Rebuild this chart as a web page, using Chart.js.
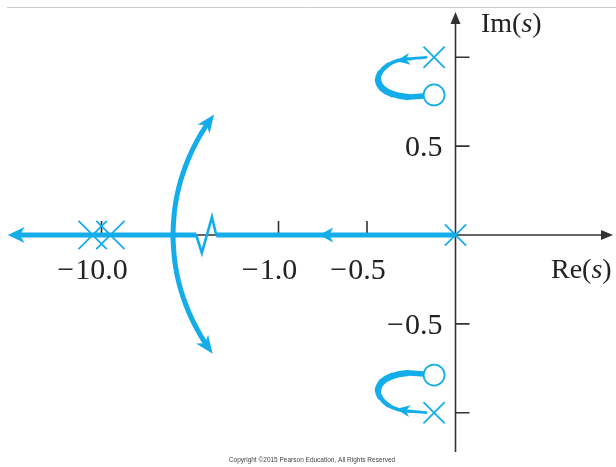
<!DOCTYPE html>
<html>
<head>
<meta charset="utf-8">
<script src="https://cdn.jsdelivr.net/npm/chart.js@4.4.1/dist/chart.umd.min.js"></script>
<style>
  html, body { margin: 0; padding: 0; background: #fff; }
  canvas { display: block; }
</style>
</head>
<body>
<canvas id="locus" width="616" height="467"></canvas>
<script>
// Root locus in the s-plane. The real axis is broken at the zigzag:
// left of it the display position is Re(s) + 8, so -10 sits at -2.
const BREAK_SHIFT = 8

const xTickVals = [-10 + BREAK_SHIFT, -1.0, -0.5]
const xTickText = ['−10.0', '−1.0', '−0.5']
const yTickVals = [1.0, 0.5, -0.5, -1.0]
const yTickText = ['', '0.5', '−0.5', '']

// open-loop poles and zeros
const poles = [{x: 0, y: 0}, {x: -0.121, y: 1.0}, {x: -0.121, y: -1.0}]
const doublePole = [{x: -10.05 + BREAK_SHIFT, y: 0}, {x: -9.95 + BREAK_SHIFT, y: 0}]
const zeros = [{x: -0.121, y: 0.788}, {x: -0.121, y: -0.788}]

// locus on the real axis, with the gap where the break symbol goes
const realLocus = [
  {x: -2.47, y: 0}, {x: -1.465, y: 0}, {x: -1.41, y: null},
  {x: -1.352, y: 0}, {x: 0, y: 0}
]
const breakMark = [
  {x: -1.465, y: 0}, {x: -1.433, y: -0.101}, {x: -1.376, y: 0.101}, {x: -1.352, y: 0}
]

// branches leaving the far-left poles, bending out to the asymptotes
const asymptoteArc = [
  {x: -1.399, y: 0.630}, {x: -1.442, y: 0.563}, {x: -1.487, y: 0.478},
  {x: -1.523, y: 0.394}, {x: -1.552, y: 0.309}, {x: -1.573, y: 0.225},
  {x: -1.587, y: 0.141}, {x: -1.594, y: 0.056}, {x: -1.596, y: 0},
  {x: -1.594, y: -0.056}, {x: -1.587, y: -0.141}, {x: -1.573, y: -0.225},
  {x: -1.552, y: -0.309}, {x: -1.523, y: -0.394}, {x: -1.487, y: -0.478},
  {x: -1.442, y: -0.563}, {x: -1.409, y: -0.615}
]

// complex pole -> zero loops
const upperLoop = [
  {x: -0.167, y: 0.999}, {x: -0.246, y: 0.993}, {x: -0.325, y: 0.982},
  {x: -0.381, y: 0.957}, {x: -0.427, y: 0.912}, {x: -0.438, y: 0.872},
  {x: -0.415, y: 0.827}, {x: -0.359, y: 0.794}, {x: -0.274, y: 0.777},
  {x: -0.184, y: 0.782}
]
const lowerLoop = upperLoop.map(p => ({x: p.x, y: -p.y}))

// direction arrows: tip and a point behind it on the branch
const arrows = [
  {tip: [-2.53, 0], from: [-2.40, 0], len: 17, half: 8},
  {tip: [-0.77, 0], from: [-0.62, 0], len: 14, half: 7.5},
  {tip: [-1.364, 0.678], from: [-1.416, 0.607], len: 18, half: 7.5},
  {tip: [-1.372, -0.668], from: [-1.424, -0.597], len: 18, half: 7.5},
  {tip: [-0.336, 0.979], from: [-0.246, 0.993], len: 14, half: 6},
  {tip: [-0.336, -0.979], from: [-0.246, -0.993], len: 14, half: 6}
]

const BLUE = '#14ade9'
const INK = '#333333'
const loopWidths = [2.8, 3.2, 3.8, 4.6, 5.6, 6.4, 6.6, 6.2, 5.6]

const serif = '28px "Liberation Serif", "Times New Roman", serif'
const serifItalic = 'italic 28px "Liberation Serif", "Times New Roman", serif'
const numFont = '30px "Liberation Serif", "Times New Roman", serif'

function drawArrow(ctx, x, y, a) {
  const tx = x.getPixelForValue(a.tip[0]), ty = y.getPixelForValue(a.tip[1])
  const fx = x.getPixelForValue(a.from[0]), fy = y.getPixelForValue(a.from[1])
  const ang = Math.atan2(ty - fy, tx - fx)
  ctx.save()
  ctx.translate(tx, ty)
  ctx.rotate(ang)
  ctx.beginPath()
  ctx.moveTo(0, 0)
  ctx.lineTo(-a.len, a.half)
  ctx.lineTo(-a.len * 0.72, 0)
  ctx.lineTo(-a.len, -a.half)
  ctx.closePath()
  ctx.fill()
  ctx.restore()
}

function drawLabel(ctx, parts, x0, base) {
  // parts: [text, italic?] pieces drawn left to right
  let cx = x0
  parts.forEach(([t, it]) => {
    ctx.font = it ? serifItalic : serif
    ctx.fillText(t, cx, base)
    cx += ctx.measureText(t).width
  })
}

// number with its digits ending at `right`; the minus sign sits just before them
function drawNumber(ctx, text, right, base) {
  ctx.font = numFont
  ctx.textAlign = 'right'
  const neg = text.startsWith('−')
  const digits = neg ? text.slice(1) : text
  ctx.fillText(digits, right, base)
  if (neg) ctx.fillText('−', right - ctx.measureText(digits).width - 1, base)
}

const axesPlugin = {
  id: 'sPlaneAxes',
  beforeDatasetsDraw(chart) {
    const {ctx, scales: {x, y}} = chart
    const x0 = x.getPixelForValue(0), y0 = y.getPixelForValue(0)
    ctx.save()

    // thin rule across the top
    ctx.strokeStyle = '#cccccc'
    ctx.lineWidth = 1
    ctx.beginPath(); ctx.moveTo(7, 7.5); ctx.lineTo(616, 7.5); ctx.stroke()

    // axes
    ctx.strokeStyle = INK
    ctx.fillStyle = INK
    ctx.lineWidth = 1.6
    const xRight = x.getPixelForValue(0.89)
    const yTop = y.getPixelForValue(1.255)
    const yBottom = y.getPixelForValue(-1.221)
    ctx.beginPath()
    ctx.moveTo(x.getPixelForValue(-2.5), y0); ctx.lineTo(xRight - 8, y0)
    ctx.moveTo(x0, yTop + 8); ctx.lineTo(x0, yBottom)
    ctx.stroke()
    ctx.beginPath()
    ctx.moveTo(xRight, y0); ctx.lineTo(xRight - 12, y0 - 5); ctx.lineTo(xRight - 12, y0 + 5)
    ctx.closePath(); ctx.fill()
    ctx.beginPath()
    ctx.moveTo(x0, yTop); ctx.lineTo(x0 - 5, yTop + 12); ctx.lineTo(x0 + 5, yTop + 12)
    ctx.closePath(); ctx.fill()

    // tick marks
    ctx.lineWidth = 1.6
    ctx.beginPath()
    xTickVals.forEach(v => {
      const px = x.getPixelForValue(v)
      ctx.moveTo(px, y0 - 14); ctx.lineTo(px, y0)
    })
    yTickVals.forEach(v => {
      const py = y.getPixelForValue(v)
      ctx.moveTo(x0, py); ctx.lineTo(x0 + 14, py)
    })
    ctx.stroke()

    // tick labels: digits centred under the tick, minus hangs to the left
    ctx.fillStyle = '#222222'
    ctx.textBaseline = 'alphabetic'
    ctx.font = numFont
    xTickVals.forEach((v, i) => {
      const w = ctx.measureText(xTickText[i].replace('−', '')).width
      drawNumber(ctx, xTickText[i], x.getPixelForValue(v) + w / 2, y0 + 44)
    })
    yTickVals.forEach((v, i) => {
      if (!yTickText[i]) return
      drawNumber(ctx, yTickText[i], x0 - 13, y.getPixelForValue(v) + 10)
    })

    // axis names
    ctx.textAlign = 'left'
    drawLabel(ctx, [['Re(', false], ['s', true], [')', false]], 551, y0 + 43)
    drawLabel(ctx, [['Im(', false], ['s', true], [')', false]], 481, 32)

    // copyright line
    ctx.font = '6.5px "Liberation Sans", Arial, sans-serif'
    ctx.fillStyle = '#444444'
    ctx.textAlign = 'center'
    ctx.fillText('Copyright ©2015 Pearson Education, All Rights Reserved', 312, 462)
    ctx.restore()
  },
  afterDatasetsDraw(chart) {
    const {ctx, scales: {x, y}} = chart
    ctx.save()
    ctx.fillStyle = BLUE
    arrows.forEach(a => drawArrow(ctx, x, y, a))
    ctx.restore()
  }
}

const lineSet = (data, width, extra) => Object.assign({
  data: data,
  showLine: true,
  borderColor: BLUE,
  borderWidth: width,
  pointRadius: 0,
  pointHoverRadius: 0,
  spanGaps: false,
  clip: false
}, extra || {})

new Chart(document.getElementById('locus'), {
  type: 'scatter',
  data: {
    datasets: [
      {
        data: zeros,
        pointStyle: 'circle',
        pointRadius: 10.5,
        pointBorderWidth: 1.8,
        pointBorderColor: BLUE,
        pointBackgroundColor: '#ffffff',
        clip: false
      },
      {
        data: poles,
        pointStyle: 'crossRot',
        pointRadius: 15,
        pointBorderWidth: 1.8,
        pointBorderColor: BLUE,
        clip: false
      },
      {
        data: doublePole,
        pointStyle: 'crossRot',
        pointRadius: 20,
        pointBorderWidth: 1.8,
        pointBorderColor: BLUE,
        clip: false
      },
      lineSet(upperLoop, 4, {
        tension: 0.4, borderCapStyle: 'round',
        segment: { borderWidth: c => loopWidths[c.p0DataIndex] }
      }),
      lineSet(lowerLoop, 4, {
        tension: 0.4, borderCapStyle: 'round',
        segment: { borderWidth: c => loopWidths[c.p0DataIndex] }
      }),
      lineSet(asymptoteArc, 5, { tension: 0.3 }),
      lineSet(breakMark, 2.6, { borderJoinStyle: 'miter' }),
      lineSet(realLocus, 5)
    ]
  },
  options: {
    responsive: false,
    animation: false,
    devicePixelRatio: 1,
    layout: { padding: 0, autoPadding: false },
    plugins: {
      legend: { display: false },
      tooltip: { enabled: false }
    },
    scales: {
      x: { type: 'linear', min: -455.5 / 177, max: 160.5 / 177, display: false },
      y: { type: 'linear', min: -232 / 177.7, max: 235 / 177.7, display: false }
    }
  },
  plugins: [axesPlugin]
})
</script>
</body>
</html>
